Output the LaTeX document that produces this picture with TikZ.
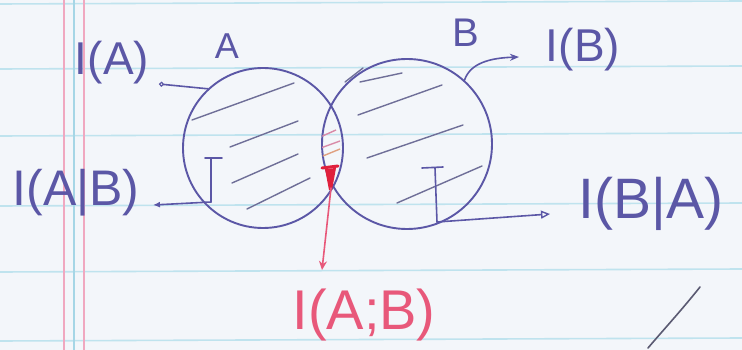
\documentclass[tikz,border=0pt]{standalone}
\usepackage{fontspec}
\setmainfont{Liberation Sans}
\usetikzlibrary{arrows.meta}
\definecolor{paper}{HTML}{F3F6FA}
\definecolor{rulecol}{HTML}{BFE3EE}
\definecolor{margin}{HTML}{F0A8C0}
\definecolor{marginblue}{HTML}{A6D6E6}
\definecolor{ink}{HTML}{5B57A6}
\definecolor{hatchcol}{HTML}{6F6F98}
\definecolor{redink}{HTML}{E8587A}
\definecolor{redT}{HTML}{E0203C}
\definecolor{pinkh}{HTML}{D98AA8}
\definecolor{orangeh}{HTML}{E0A080}
\definecolor{pencil}{HTML}{5A5A72}
\begin{document}
\begin{tikzpicture}[x=1pt,y=-1pt,
  lbl/.style={inner sep=0pt, text=ink, font=\fontsize{46}{46}\selectfont},
  setcircle/.style={circle, draw=ink, line width=1.9pt, inner sep=0pt},
  hatchline/.style={draw=hatchcol, line width=1.4pt, line cap=round},
  inkline/.style={draw=ink, line width=1.6pt, line cap=round},
  redline/.style={draw=redink, line width=1.6pt, line cap=round}]
% paper
\fill[paper] (0,0) rectangle (742,350);
\useasboundingbox (0,0) rectangle (742,350);
\foreach \yy in {4,69,136,206,272,341}
  \draw[rulecol, line width=1.6pt] (0,\yy) -- (742,\yy-3);
\draw[margin, line width=2pt] (64,0) -- (64,350);
\draw[marginblue, line width=2pt] (74,0) -- (74,350);
\draw[margin, line width=2pt] (84,0) -- (84,350);

% sets
\node[setcircle, minimum size=160pt] (cA) at (263,148) {};
\node[setcircle, minimum size=170pt] (cB) at (407,144) {};

% hatching in A
\draw[hatchline] (192,120) -- (294,83);
\draw[hatchline] (230,147) -- (298,121);
\draw[hatchline] (232,183) -- (298,154);
\draw[hatchline] (247,209) -- (310,178);
% hatching in B
\draw[hatchline] (345,82) -- (363,68);
\draw[hatchline] (360,82) -- (402,73);
\draw[hatchline] (358,115) -- (442,85);
\draw[hatchline] (367,158) -- (463,125);
\draw[hatchline] (397,203) -- (482,166);

% lens hatching
\begin{scope}
  \clip (263,148) circle (80pt);
  \clip (407,144) circle (85pt);
  \draw[pinkh, line width=1.4pt] (318,138) -- (336,130);
  \draw[pinkh, line width=1.4pt] (318,149) -- (340,141);
  \draw[orangeh, line width=1.4pt] (318,158) -- (340,149);
\end{scope}

% labels
\node[lbl, font=\fontsize{36}{36}\selectfont] (tA) at (227,46) {A};
\node[lbl, font=\fontsize{40}{40}\selectfont] (tB) at (466,33) {B};
\node[lbl] (IA) at (112,63) {I(A)};
\node[lbl] (IB) at (583,50) {I(B)};
\node[lbl, font=\fontsize{50}{50}\selectfont] (IAB) at (76,193) {I(A|B)};
\node[lbl, font=\fontsize{57}{57}\selectfont] (IBA) at (651,204) {I(B|A)};
\node[lbl, text=redink, font=\fontsize{56}{56}\selectfont] (IAsB) at (364,315) {I(A;B)};

% I(A)
\coordinate (eIA) at (159,84);
\draw[inkline, -{Circle[open, length=5pt, line width=1.2pt]}] (cA.133) -- (eIA);
% I(B)
\coordinate (eIB) at (519,57);
\draw[inkline, -{Stealth[length=9pt, width=7pt]}] (cB.48) .. controls (470,64) and (488,58) .. (eIB);

% T mark in A and I(A|B)
\coordinate (tAtop) at (211,158);
\coordinate (tAbot) at (211,202);
\coordinate (eIAB) at (153,205);
\draw[inkline] (205,158) -- (222,158);
\draw[inkline] (tAtop) -- (tAbot);
\draw[inkline, -{Latex[length=7pt, width=6pt]}] (tAbot) -- (eIAB);

% T mark in B and I(B|A)
\coordinate (tBtop) at (435,168);
\coordinate (tBbot) at (437,222);
\coordinate (eIBA) at (550,214);
\draw[inkline] (422,168) -- (443,167);
\draw[inkline] (tBtop) -- (tBbot);
\draw[inkline, -{Triangle[open, length=9pt, width=8pt, line width=1.4pt]}] (tBbot) -- (eIBA);

% red T and I(A;B)
\coordinate (rTop) at (330,169);
\coordinate (rBot) at (331,188);
\coordinate (eIAsB) at (322,270);
\draw[redT, line width=3pt, line cap=round] (322,168) -- (338,166);
\fill[redT] (325,169) -- (336,168) -- (332,190) -- (329,190) -- cycle;
\draw[redline, -{Stealth[length=9pt, width=8pt]}] (rBot) -- (eIAsB);

% pencil stroke
\draw[pencil, line width=1.6pt, line cap=round] (700,287) .. controls (680,312) and (665,328) .. (648,348);
\end{tikzpicture}
\end{document}
